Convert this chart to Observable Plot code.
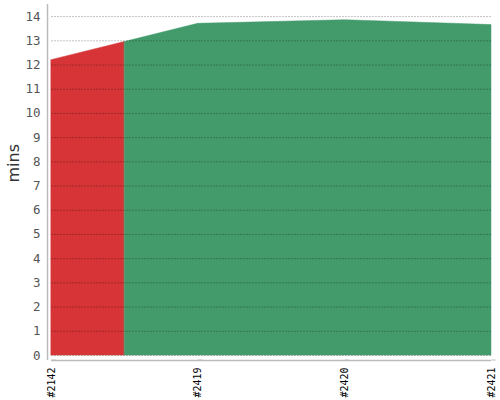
<!DOCTYPE html>
<html>
<head>
<meta charset="utf-8">
<script src="https://cdn.jsdelivr.net/npm/d3@7"></script>
<script src="https://cdn.jsdelivr.net/npm/@observablehq/plot@0.6"></script>
<style>
  html, body { margin: 0; padding: 0; background: #fff; }
  #chart svg { display: block; }
</style>
</head>
<body>
<div id="chart"></div>
<script>
const builds = ["#2142", "#2419", "#2420", "#2421"];
const durations = [12.2, 13.7, 13.85, 13.65];
const statuses = ["failure", "success", "success", "success"];
const yTicks = [0,1,2,3,4,5,6,7,8,9,10,11,12,13,14];

const statusColor = {failure: "#d63436", success: "#439b6c"};

// Jenkins-style: each build owns the span halfway to its neighbours.
const n = builds.length;
const valueAt = t => {
  const i = Math.min(Math.floor(t), n - 2);
  const f = t - i;
  return durations[i] * (1 - f) + durations[i + 1] * f;
};
// merge consecutive builds with the same status into runs
const runs = [];
for (let i = 0; i < n; i++) {
  const start = Math.max(0, i - 0.5), end = Math.min(n - 1, i + 0.5);
  const last = runs[runs.length - 1];
  if (last && last.status === statuses[i]) last.end = end;
  else runs.push({status: statuses[i], start, end, id: runs.length});
}
const pts = [];
for (const r of runs) {
  const ts = [r.start];
  for (let i = 0; i < n; i++) if (i > r.start && i < r.end) ts.push(i);
  ts.push(r.end);
  for (const t of ts) pts.push({t, v: valueAt(t), status: r.status, run: r.id});
}

const mono = "DejaVu Sans Mono, monospace";

const chart = Plot.plot({
  width: 500,
  height: 400,
  marginLeft: 47,
  marginRight: 9,
  marginTop: 4,
  marginBottom: 40,
  style: {fontFamily: "DejaVu Sans, sans-serif", background: "#fff"},
  x: {domain: [0, n - 1], insetLeft: 4, axis: null},
  y: {domain: [0, 14.5], insetBottom: 5, axis: null},
  marks: [
    Plot.areaY(pts, {x: "t", y1: 0, y2: "v", z: "run", fill: d => statusColor[d.status], stroke: d => statusColor[d.status], strokeWidth: 0.5, curve: "linear"}),
    Plot.ruleY(yTicks, {y: d => d, x1: 0, x2: n - 1, stroke: "#000", strokeOpacity: 0.3, strokeDasharray: "2,1", strokeWidth: 0.8}),
    Plot.ruleX([0], {x: d => d, dx: -4, y1: 14.5, y2: 0, insetBottom: -5, stroke: "#bbb", strokeWidth: 1.5}),
    Plot.ruleY([0], {y: d => d, dy: 5, x1: 0, x2: n - 1, stroke: "#bbb", strokeWidth: 1.5}),
    Plot.axisY(yTicks, {anchor: "left", tickSize: 0, tickPadding: 7, fill: "#555", fontSize: 12.5, fontFamily: mono, label: null, tickFormat: d => d}),
    Plot.axisX(builds.map((b, i) => i), {anchor: "bottom", tickSize: 4, tickPadding: 3, stroke: "#bbb", fill: "#000", fontSize: 10, fontFamily: mono, textAnchor: "end", lineAnchor: "middle", rotate: -90, label: null, tickFormat: i => builds[i]}),
    Plot.text(["mins"], {frameAnchor: "left", dx: -34, rotate: -90, fontSize: 16, fill: "#333"})
  ]
});
document.getElementById("chart").appendChild(chart);
</script>
</body>
</html>
